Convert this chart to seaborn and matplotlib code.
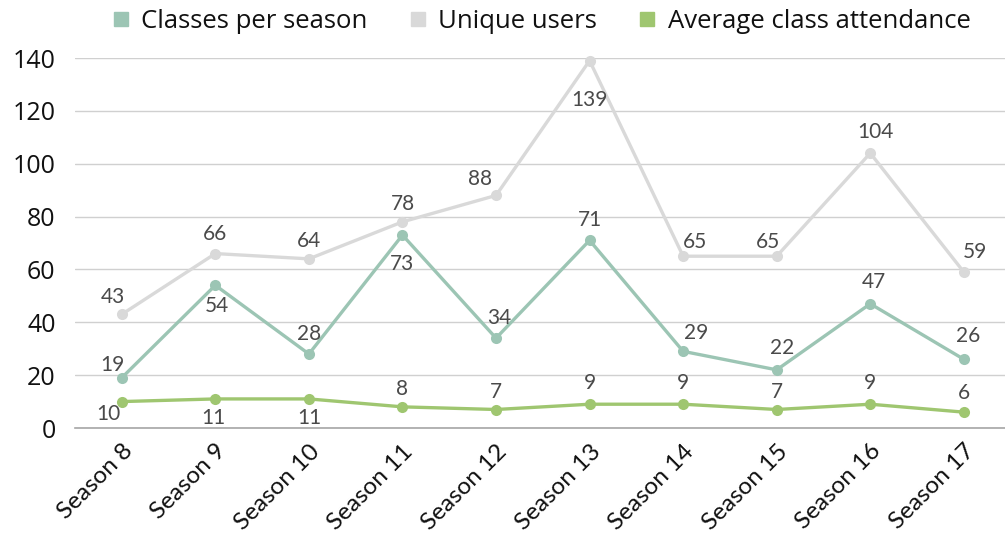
import pandas as pd
import matplotlib
matplotlib.use('Agg')
import matplotlib.pyplot as plt
from matplotlib.lines import Line2D
import seaborn as sns

seasons = ['Season 8', 'Season 9', 'Season 10', 'Season 11', 'Season 12',
           'Season 13', 'Season 14', 'Season 15', 'Season 16', 'Season 17']
classes = [19, 54, 28, 73, 34, 71, 29, 22, 47, 26]
users = [43, 66, 64, 78, 88, 139, 65, 65, 104, 59]
attendance = [10, 11, 11, 8, 7, 9, 9, 7, 9, 6]

series_names = ['Classes per season', 'Unique users', 'Average class attendance']
colors = ['#9cc5b4', '#d9d9d9', '#9fc670']

# label offsets in pixels (dx, dy) per point, as placed in the original
off_classes = [(-9, 13), (2, -21), (0, 20), (0, -29), (3, 20),
               (0, 20), (13, 18), (5, 22), (4, 22), (4, 23)]
off_users = [(-9, 17), (0, 20), (0, 18), (0, 18), (-16, 16),
             (0, -39), (12, 14), (-9, 14), (5, 21), (11, 20)]
off_att = [(-13, -12), (-2, -19), (0, -19), (0, 18), (0, 17),
           (0, 21), (0, 21), (0, 17), (0, 21), (0, 19)]


def main():
    df = pd.DataFrame({
        'x': list(range(len(seasons))) * 3,
        'value': classes + users + attendance,
        'series': [s for s in series_names for _ in seasons],
    })

    sns.set_style('white')
    plt.rcParams['font.family'] = ['Open Sans', 'DejaVu Sans']

    fig = plt.figure(figsize=(10.05, 5.41), dpi=100)
    ax = fig.add_axes([75 / 1005, 1 - 428 / 541, 930 / 1005, 370 / 541])

    sns.lineplot(data=df, x='x', y='value', hue='series', hue_order=series_names,
                 palette=colors, marker='o', markersize=8, markeredgewidth=0,
                 linewidth=2.4, legend=False, ax=ax, clip_on=False)

    ax.set_xlim(-0.5, 9.44)
    ax.set_ylim(0, 140)
    ax.set_yticks(range(0, 141, 20))
    ax.yaxis.grid(True, color='#d0d0d0', linewidth=1.0)
    ax.set_axisbelow(True)
    for side in ['left', 'right', 'top']:
        ax.spines[side].set_visible(False)
    ax.spines['bottom'].set_color('#a6a6a6')
    ax.spines['bottom'].set_linewidth(1.2)
    ax.tick_params(length=0)
    ax.tick_params(axis='y', labelsize=18, pad=14, labelcolor='#111111')
    ax.tick_params(axis='x', pad=9)
    ax.set_xlabel('')
    ax.set_ylabel('')

    ax.set_xticks(range(len(seasons)))
    ax.set_xticklabels(seasons, rotation=45, ha='right', va='top',
                       rotation_mode='anchor', fontsize=17.5, family='Lato')
    for lab in ax.get_xticklabels():
        lab.set_color('#111111')

    for vals, offs in [(classes, off_classes), (users, off_users), (attendance, off_att)]:
        for i, v in enumerate(vals):
            ax.annotate(str(v), (i, v), xytext=offs[i], textcoords='offset pixels',
                        ha='center', va='center', fontsize=15, family='Lato',
                        color='#4a4a4a')

    handles = [Line2D([], [], color=c, marker='s', linestyle='none', markersize=9.5)
               for c in colors]
    ax.legend(handles, series_names, loc='center', bbox_to_anchor=(0.5, 1.1),
              ncol=3, frameon=False, fontsize=18.5, handletextpad=0.35,
              columnspacing=1.5, handlelength=0.9, labelcolor='#111111')

    fig.savefig('out.png', dpi=100)


if __name__ == '__main__':
    main()
